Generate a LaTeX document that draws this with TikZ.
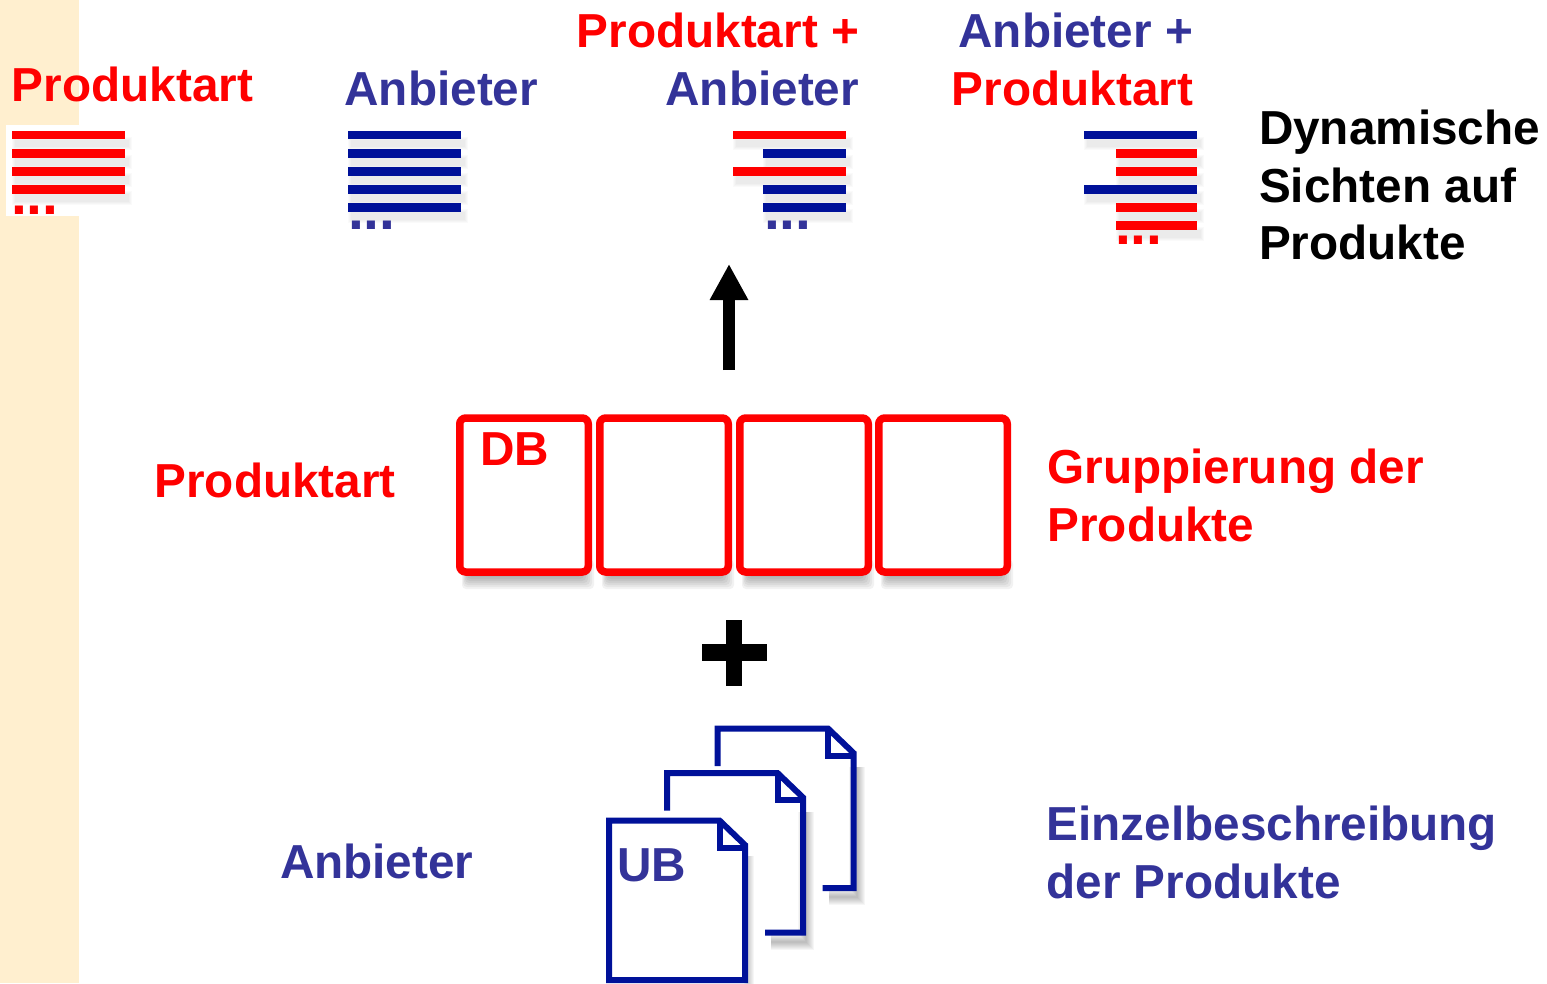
\documentclass[tikz,border=0pt]{standalone}
\usepackage{fontspec}
\setmainfont{Liberation Sans}
\usepackage{tikz}
\usetikzlibrary{arrows.meta}

\definecolor{rot}{HTML}{FF0000}
\definecolor{anbieterblau}{HTML}{333399}
\definecolor{balkenblau}{HTML}{001199}
\definecolor{randbeige}{HTML}{FFEFCF}

\tikzset{
  label/.style={font=\fontsize{47.7}{57.5}\selectfont\bfseries, inner sep=0pt, outer sep=0pt, anchor=base west},
  dots/.style={font=\fontsize{57}{57}\selectfont\bfseries, inner sep=0pt, outer sep=0pt, anchor=base west},
  gruppebox/.style={draw=rot, fill=white, line width=7.5pt, rounded corners=6pt, minimum width=128.5pt, minimum height=154pt, inner sep=0pt},
  blatt/.style={draw=balkenblau, line width=6pt},
  softshadow/.style={draw=black, opacity=.035}
}

% one bar of a list: left, top, right, bottom, colour
\newcommand{\listbar}[5]{
  \foreach \w in {0,1,2,3}
    \fill[black, opacity=.02] (#1+\w,#2+6+\w) rectangle (#3+7-\w,#4+11-\w);
  \fill[#5] (#1,#2) rectangle (#3,#4);
}

\begin{document}
\begin{tikzpicture}[x=1pt, y=-1pt]
    \useasboundingbox (0,0) rectangle (1547,983);
    \fill[randbeige] (0,0) rectangle (79,983);
    \fill[white] (6,125) rectangle (79,216);

    % the four lists
    \foreach \top/\bot in {131/139,149/158,167/176,185/194} {
      \listbar{12}{\top}{125}{\bot}{rot}
    }
    \foreach \top/\bot in {131/139,149/158,167/176,185/194,203/212} {
      \listbar{348}{\top}{461}{\bot}{balkenblau}
    }
    \foreach \lft/\top/\bot/\col in {733/131/139/rot,763/149/158/balkenblau,733/167/176/rot,763/185/194/balkenblau,763/203/212/balkenblau} {
      \listbar{\lft}{\top}{846}{\bot}{\col}
    }
    \foreach \lft/\top/\bot/\col in {1084/131/139/balkenblau,1116/149/158/rot,1116/167/176/rot,1084/185/194/balkenblau,1116/203/212/rot,1116/221/230/rot} {
      \listbar{\lft}{\top}{1197}{\bot}{\col}
    }
    \node (dotsA) [dots, text=rot] at (11,214) {...};
    \node (dotsB) [dots, text=anbieterblau] at (348,229) {...};
    \node (dotsC) [dots, text=anbieterblau] at (764,229) {...};
    \node (dotsD) [dots, text=rot] at (1115,244) {...};

    \node (sichtA) [label, text=rot] at (12,101.5) {Produktart};
    \node (sichtB) [label, text=anbieterblau] at (344.5,105) {Anbieter};
    \node (sichtC1) [label, anchor=base east, text=rot] at (859,47) {Produktart +};
    \node (sichtC2) [label, anchor=base east, text=anbieterblau] at (859,105) {Anbieter};
    \node (sichtD1) [label, anchor=base east, text=anbieterblau] at (1193,47) {Anbieter +};
    \node (sichtD2) [label, anchor=base east, text=rot] at (1193,105) {Produktart};
    \node (dynamisch) [label, align=left, anchor=north west] at (1259,110) {Dynamische\\Sichten auf\\Produkte};

    % arrow up
    \coordinate (pfeilfuss) at (729,370);
    \coordinate (pfeilspitze) at (729,264);
    \draw[-{Triangle[width=36pt,length=36pt]}, line width=12pt] (pfeilfuss) -- (pfeilspitze);

    % groups
    \foreach \x in {524,664,804,943} {
      \foreach \w in {0,2,4,6,8,10,12}
        \fill[black, opacity=.05, rounded corners=4pt] (\x-62+\w/2,560) rectangle (\x+70-\w,589-\w);
    }
    \foreach \x [count=\i] in {524,664,804,943} {
      \node (gruppe\i) [gruppebox] at (\x,495) {};
    }
    \node (db) [label, text=rot] at (480,465.5) {DB};
    \node (gruppeart) [label, text=rot] at (154.5,497) {Produktart};
    \node (gruppetext) [label, align=left, anchor=north west, text=rot] at (1047.5,449) {Gruppierung der\\Produkte};

    % plus
    \fill (726,620) rectangle (742,686);
    \fill (702,644) rectangle (767,661);

    % sheets, back to front
    \foreach \sx/\sy/\ende in {108.5/-92/714,58/-47.5/707} {
      \foreach \w in {2,4,6,8,10,12,14,16}
        \draw[softshadow, line width=\w pt, shift={(\sx+3,\sy+9)}] (745,850) -- (745,980) -- (\ende+3,980);
      \draw[blatt, shift={(\sx,\sy)}] (609,858) -- (609,820.5) -- (719.5,820.5) -- (745,845) -- (745,980) -- (\ende,980);
      \draw[blatt, shift={(\sx,\sy)}] (719.5,820.5) -- (719.5,847.5) -- (745,847.5);
    }
    \foreach \w in {2,4,6,8,10}
      \draw[softshadow, line width=\w pt, shift={(4,6)}] (745,850) -- (745,980);
    \draw[blatt] (609,980) -- (609,820.5) -- (719.5,820.5) -- (745,845) -- (745,980) -- cycle;
    \draw[blatt] (719.5,820.5) -- (719.5,847.5) -- (745,847.5);
    \node (ub) [label, text=anbieterblau] at (617,881) {UB};
    \node (blattart) [label, text=anbieterblau] at (280,878) {Anbieter};
    \node (blatttext) [label, align=left, anchor=north west, text=anbieterblau] at (1046.5,806) {Einzelbeschreibung\\der Produkte};
\end{tikzpicture}
\end{document}
